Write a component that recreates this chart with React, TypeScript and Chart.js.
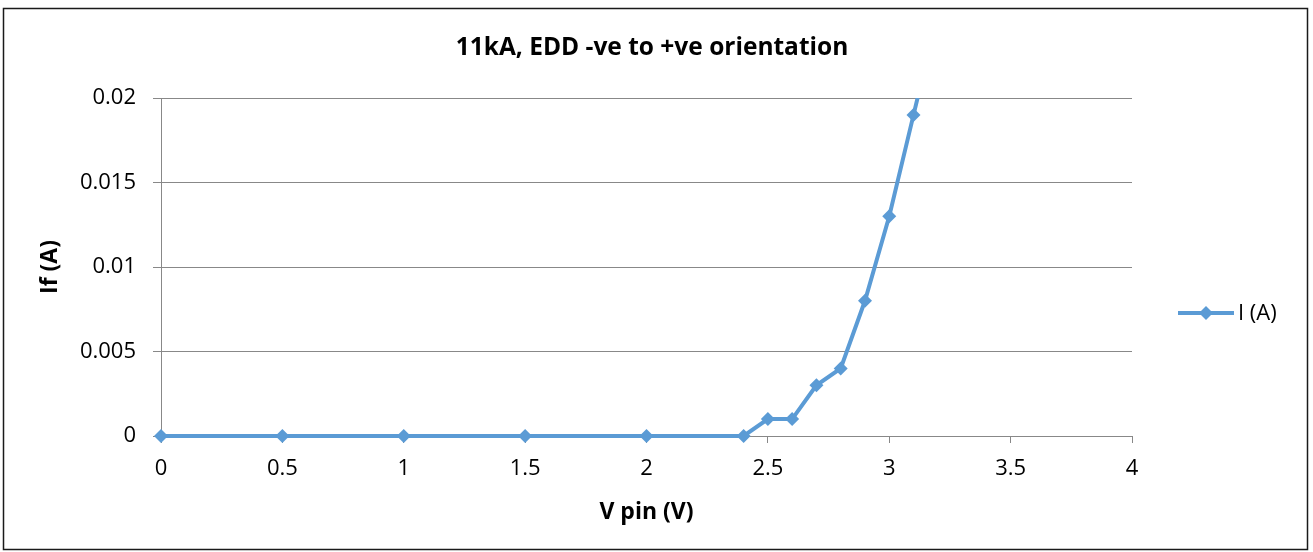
import React, { useEffect, useRef } from "react";
import { Chart, registerables } from "chart.js";

Chart.register(...registerables);

const xValues = [0, 0.5, 1, 1.5, 2, 2.4, 2.5, 2.6, 2.7, 2.8, 2.9, 3, 3.1, 3.2];
const currentValues = [0, 0, 0, 0, 0, 0, 0.001, 0.001, 0.003, 0.004, 0.008, 0.013, 0.019, 0.025];
const seriesLabel = "I (A)";
const chartTitle = "11kA, EDD -ve to +ve orientation";
const xAxisTitle = "V pin (V)";
const yAxisTitle = "If (A)";
const xTickLabels = ["0", "0.5", "1", "1.5", "2", "2.5", "3", "3.5", "4"];
const yTickLabels = ["0", "0.005", "0.01", "0.015", "0.02"];

const FONT = "'Open Sans', 'Liberation Sans', sans-serif";
const BLUE = "#5B9BD5";
const GRID = "#888888";

const framePlugin = {
  id: "frame",
  afterDraw(chart: any) {
    const ctx = chart.ctx;
    ctx.save();
    ctx.strokeStyle = "#1a1a1a";
    ctx.lineWidth = 1.5;
    ctx.strokeRect(3.5, 8.5, 1304, 541);
    // title
    ctx.fillStyle = "#000";
    ctx.font = `bold 24.5px ${FONT}`;
    ctx.textAlign = "center";
    ctx.textBaseline = "alphabetic";
    ctx.fillText(chartTitle, 652, 55);
    // legend
    const ly = 313;
    ctx.strokeStyle = BLUE;
    ctx.lineWidth = 4;
    ctx.beginPath();
    ctx.moveTo(1178, ly);
    ctx.lineTo(1234, ly);
    ctx.stroke();
    ctx.fillStyle = BLUE;
    ctx.beginPath();
    ctx.moveTo(1206, ly - 7);
    ctx.lineTo(1213, ly);
    ctx.lineTo(1206, ly + 7);
    ctx.lineTo(1199, ly);
    ctx.closePath();
    ctx.fill();
    ctx.fillStyle = "#000";
    ctx.font = `22px ${FONT}`;
    ctx.textBaseline = "middle";
    ctx.textAlign = "left";
    ctx.fillText(seriesLabel, 1238, ly + 1);
    ctx.restore();
  },
};

export default function App() {
  const ref = useRef<HTMLCanvasElement | null>(null);
  useEffect(() => {
    document.body.style.margin = "0";
    const canvas = ref.current!;
    const chart = new Chart(canvas, {
      type: "scatter",
      data: {
        datasets: [
          {
            label: seriesLabel,
            data: xValues.map((x, i) => ({ x, y: currentValues[i] })),
            showLine: true,
            borderColor: BLUE,
            backgroundColor: BLUE,
            borderWidth: 4,
            pointStyle: "rectRot",
            pointRadius: 7,
            pointHoverRadius: 7,
            pointBorderWidth: 0,
            tension: 0,
            clip: { left: 10, top: 0, right: 10, bottom: 10 },
          },
        ],
      },
      options: {
        animation: false,
        responsive: false,
        maintainAspectRatio: false,
        layout: { padding: { left: 0, right: 181, top: 98, bottom: 0 } },
        plugins: {
          legend: { display: false },
          tooltip: { enabled: false },
          title: { display: false },
        },
        scales: {
          x: {
            type: "linear",
            min: 0,
            max: 4,
            ticks: {
              stepSize: 0.5,
              color: "#000",
              font: { family: FONT, size: 22 },
              padding: 13,
              maxRotation: 0,
              callback: (_v: any, i: number) => xTickLabels[i],
            },
            grid: { display: true, drawOnChartArea: false, drawTicks: true, tickLength: 7, color: GRID },
            border: { display: true, color: GRID, width: 1 },
            title: {
              display: true,
              text: xAxisTitle,
              color: "#000",
              font: { family: FONT, size: 23, weight: "bold" },
              padding: { top: 0, bottom: 26 },
            },
            afterFit(scale: any) {
              scale.height = 116;
            },
          },
          y: {
            type: "linear",
            min: 0,
            max: 0.02,
            ticks: {
              stepSize: 0.005,
              color: "#000",
              font: { family: FONT, size: 22 },
              padding: 17,
              callback: (_v: any, i: number) => yTickLabels[i],
            },
            grid: { display: true, drawOnChartArea: true, drawTicks: true, tickLength: 8, color: GRID },
            border: { display: true, color: GRID, width: 1 },
            title: {
              display: true,
              text: yAxisTitle,
              color: "#000",
              font: { family: FONT, size: 23, weight: "bold" },
              padding: { top: 37, bottom: 0 },
            },
            afterFit(scale: any) {
              scale.width = 161;
            },
          },
        },
      },
      plugins: [framePlugin],
    });
    return () => chart.destroy();
  }, []);
  return (
    <div style={{ position: "fixed", left: 0, top: 0, width: 1313, height: 552, background: "#fff" }}>
      <canvas ref={ref} width={1313} height={552} style={{ display: "block", width: 1313, height: 552 }} />
    </div>
  );
}
